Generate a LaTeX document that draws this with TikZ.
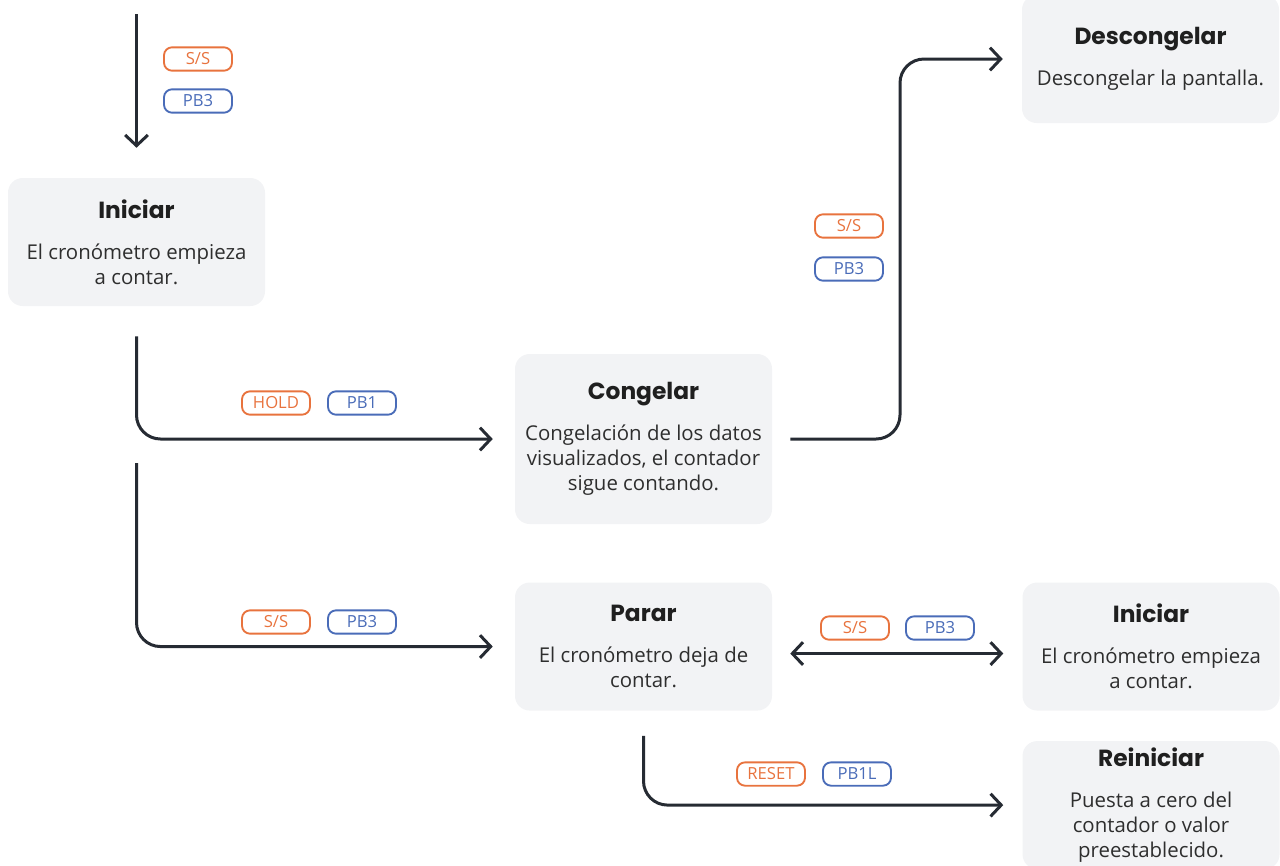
\documentclass[tikz,border=0pt]{standalone}
\usepackage{fontspec}
\setmainfont{Open Sans}
\newfontfamily\titlefam{Poppins}
\usepackage{tikz}
\usetikzlibrary{arrows.meta,positioning}

\definecolor{boxgray}{HTML}{F2F3F5}
\definecolor{linedark}{HTML}{262B33}
\definecolor{tagorange}{HTML}{E8733E}
\definecolor{tagblue}{HTML}{4A6CB8}
\definecolor{titletext}{HTML}{1F1F1F}
\definecolor{bodytext}{HTML}{2E2E2E}
\newcommand{\boxtitle}[1]{{\titlefam\bfseries\fontsize{17.5}{21}\selectfont\color{titletext}#1}\\[12pt]}

\begin{document}
\begin{tikzpicture}[
    x=0.75pt, y=-0.75pt,
    >={Straight Barb[length=8pt,width=17pt]},
    stage/.style={rectangle, fill=boxgray, rounded corners=11pt, minimum width=192.75pt, minimum height=96pt, inner sep=0pt, align=center, text=bodytext, font=\fontsize{15.3}{18.75}\selectfont},
    keytag/.style={rectangle, draw, rounded corners=6pt, line width=1.4pt, minimum width=51pt, minimum height=17.5pt, inner sep=0pt, font=\fontsize{12.5}{14}\selectfont},
    ss/.style={keytag, draw=tagorange, text=tagorange},
    pb/.style={keytag, draw=tagblue, text=tagblue},
    flow/.style={draw=linedark, line width=2.25pt, rounded corners=18pt, ->}
]
\clip (0,0) rectangle (1280,865);
% states
\node[stage] (iniA) at (136.5,242) {\boxtitle{Iniciar}El cronómetro empieza\\a contar.};
\node[stage, minimum height=127.5pt] (cong) at (643.5,439) {\boxtitle{Congelar}Congelación de los datos\\visualizados, el contador\\sigue contando.};
\node[stage] (desc) at (1150.5,59) {\boxtitle{Descongelar}Descongelar la pantalla.};
\node[stage, below=43.5pt of cong] (parar) {\boxtitle{Parar}El cronómetro deja de\\contar.};
\node[stage, right=187.5pt of parar] (iniB) {\boxtitle{Iniciar}El cronómetro empieza\\a contar.};
\node[stage, below=22.5pt of iniB] (reini) {\boxtitle{Reiniciar}Puesta a cero del\\contador o valor\\preestablecido.};
% free ends
\coordinate (start) at (136.5,14);
\coordinate (split) at (136.5,463);
\coordinate (turn) at (900,0);
% connectors
\draw[flow, shorten >=22.5pt] (start) -- (iniA);
\draw[flow, shorten <=22.5pt, shorten >=16.5pt] (iniA.south) |- (cong.west);
\draw[flow, shorten >=16.5pt] (split) |- (parar.west);
\draw[flow, shorten <=13.5pt, shorten >=14.25pt] (cong.east) -| (desc.west -| turn) -- (desc.west);
\draw[flow, <->, shorten <=13.5pt, shorten >=14.25pt] ([yshift=-5.25pt]parar.east) -- ([yshift=-5.25pt]iniB.west);
\draw[flow, shorten <=18.75pt, shorten >=14.25pt] (parar.south) |- (reini.west);
% key tags
\node[ss] (ssTop) at (198,59) {S/S};
\node[pb] (pbTop) at (198,101) {PB3};
\node[ss] (holdTag) at (276,403) {HOLD};
\node[pb] (pbHold) at (362,403) {PB1};
\node[ss] (ssStop) at (276,622) {S/S};
\node[pb] (pbStop) at (362,622) {PB3};
\node[ss] (ssThaw) at (849,226) {S/S};
\node[pb] (pbThaw) at (849,269) {PB3};
\node[ss] (ssRun) at (855,628) {S/S};
\node[pb] (pbRun) at (940,628) {PB3};
\node[ss] (resetTag) at (771,774) {RESET};
\node[pb] (pbReset) at (857,774) {PB1L};
\end{tikzpicture}
\end{document}
